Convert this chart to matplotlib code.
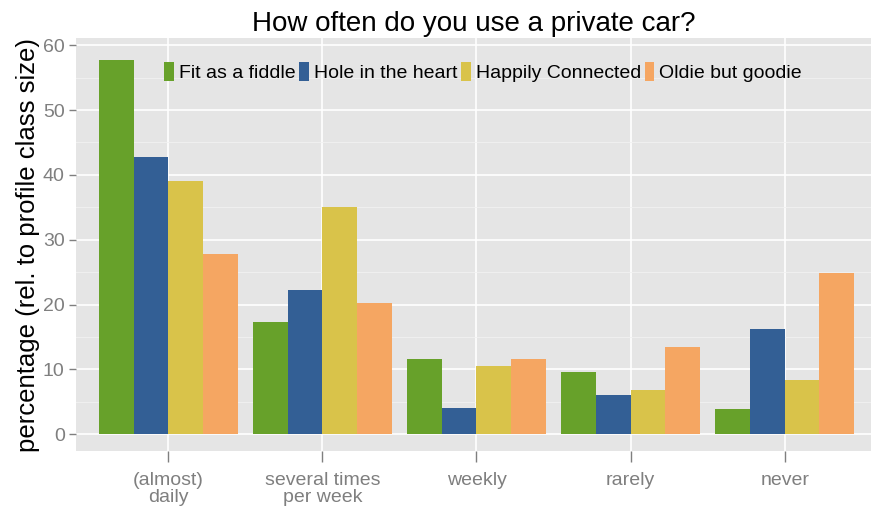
import numpy as np
import matplotlib.pyplot as plt
from matplotlib.ticker import MultipleLocator

plt.rcParams['font.family'] = ['Liberation Sans', 'DejaVu Sans']

categories = ["(almost)\ndaily", "several times\nper week", "weekly", "rarely", "never"]
profiles = ["Fit as a fiddle", "Hole in the heart", "Happily Connected", "Oldie but goodie"]
fit = [57.7, 17.3, 11.6, 9.6, 3.9]
hole = [42.8, 22.3, 4.1, 6.1, 16.2]
happy = [39.0, 35.0, 10.5, 6.8, 8.4]
oldie = [27.8, 20.2, 11.6, 13.5, 24.9]
colors = ["#67A12A", "#335F95", "#D9C34A", "#F5A662"]

fig = plt.figure(figsize=(8.71, 5.07), dpi=100)
ax = fig.add_axes([0.087, 0.11, 0.913, 0.815])
ax.set_facecolor("#E5E5E5")

x = np.arange(len(categories))
width = 0.225
for i, (vals, name) in enumerate(zip([fit, hole, happy, oldie], profiles)):
    ax.bar(x + (i - 1.5) * width, vals, width, color=colors[i], label=name, zorder=3)

ax.set_xlim(-0.6, 4.56)
ax.set_ylim(-2.6, 61.1)
ax.yaxis.set_major_locator(MultipleLocator(10))
ax.yaxis.set_minor_locator(MultipleLocator(5))
ax.set_xticks(x)
ax.set_xticklabels(categories, linespacing=1.0)
ax.grid(which="major", color="white", linewidth=1.2, zorder=0)
ax.grid(which="minor", axis="y", color="#F2F2F2", linewidth=0.6, zorder=0)
ax.set_axisbelow(True)
for s in ax.spines.values():
    s.set_visible(False)
ax.tick_params(axis="both", which="major", colors="#7F7F7F", labelsize=14, length=5, width=1)
ax.tick_params(axis="y", which="minor", length=0)
ax.tick_params(axis="x", labelcolor="#7F7F7F", pad=7, length=8)
ax.tick_params(axis="y", pad=3)

ax.set_ylabel("percentage (rel. to profile class size)", fontsize=18.5, labelpad=2)
ax.set_title("How often do you use a private car?", fontsize=20, pad=5)

ax.legend(loc="upper center", bbox_to_anchor=(0.512, 0.96), ncol=4, frameon=False,
          fontsize=14, handlelength=0.5, handleheight=1.1, handletextpad=0.25, columnspacing=0.2,
          borderaxespad=0)

fig.savefig("out.png", dpi=100)
